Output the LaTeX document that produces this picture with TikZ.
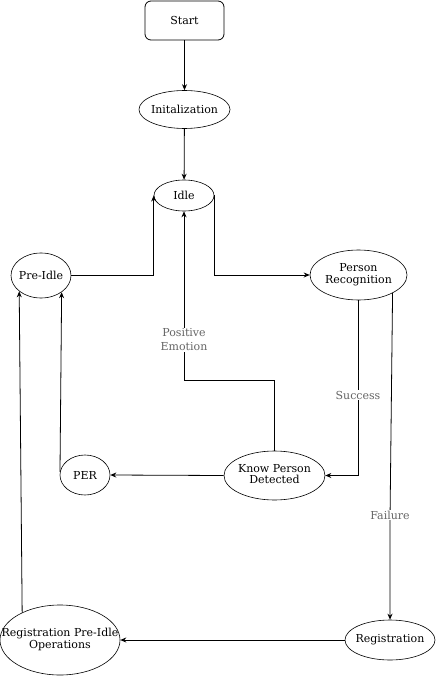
\documentclass[tikz,border=0pt]{standalone}
\usepackage{fontspec}
\setmainfont{DejaVu Serif}
\usetikzlibrary{shapes.geometric,arrows.meta}
\begin{document}
\begin{tikzpicture}[x=1pt,y=-1pt,
  every node/.style={font=\fontsize{11}{13.5}\selectfont},
  st/.style={draw,ellipse,inner sep=0pt,line width=0.6pt,align=center},
  rbox/.style={draw,rounded corners=6pt,inner sep=0pt,line width=0.8pt},
  conn/.style={line width=0.8pt,-{Stealth[length=6pt,width=5pt,inset=2pt]}},
  lbl/.style={fill=white,text=black!60,align=center,inner sep=1pt,font=\fontsize{11}{14}\selectfont}]
\useasboundingbox (0,0) rectangle (436,676);
\node[rbox,minimum width=79pt,minimum height=39pt] (start) at (184.5,20.5) {Start};
\node[st,minimum width=91pt,minimum height=38pt] (init) at (184.5,109.5) {\makebox[0pt]{Initalization}};
\node[st,minimum width=60pt,minimum height=31pt] (idle) at (184,195.5) {Idle};
\node[st,minimum width=60pt,minimum height=45pt] (preidle) at (41,275.5) {\makebox[0pt]{Pre-Idle}};
\node[st,minimum width=97pt,minimum height=50pt] (pr) at (358.5,275) {\makebox[0pt]{\begin{tabular}{@{}c@{}}Person\\[-2pt]Recognition\end{tabular}}};
\node[st,minimum width=101pt,minimum height=49pt] (kpd) at (274.5,475.5) {\makebox[0pt]{\begin{tabular}{@{}c@{}}Know Person\\[-2pt]Detected\end{tabular}}};
\node[st,minimum width=50pt,minimum height=40pt] (per) at (85,475) {PER};
\node[st,minimum width=90pt,minimum height=40pt] (reg) at (390,640) {\makebox[0pt]{Registration}};
\node[st,minimum width=120pt,minimum height=70pt] (rpio) at (60,640) {\makebox[0pt]{\begin{tabular}{@{}c@{}}Registration Pre-Idle\\[-2pt]Operations\end{tabular}}};
\coordinate (pebend) at (184,380);
\coordinate (failbend) at (390,520);
\draw[conn] (start) -- (init);
\draw[conn] (init) -- (idle);
\draw[conn] (preidle.east) -| (idle.west);
\draw[conn] (idle.east) |- (pr.west);
\draw[conn] (kpd.north) |- (pebend) -- (idle.south);
\node[lbl] (pelbl) at (184,340) {Positive\\Emotion};
\draw[conn] (pr.south) |- (kpd.east);
\node[lbl] (sulbl) at (358,395) {Success};
\draw[conn] (pr.332) -- (failbend) -- (reg.north);
\node[lbl] (falbl) at (390,515) {Failure};
\draw[conn] (kpd.west) -- (per.east);
\draw[conn] (per.173) -- (preidle.321);
\draw[conn] (reg.west) -- (rpio.east);
\draw[conn] (rpio.144) -- (preidle.216);
\end{tikzpicture}
\end{document}
